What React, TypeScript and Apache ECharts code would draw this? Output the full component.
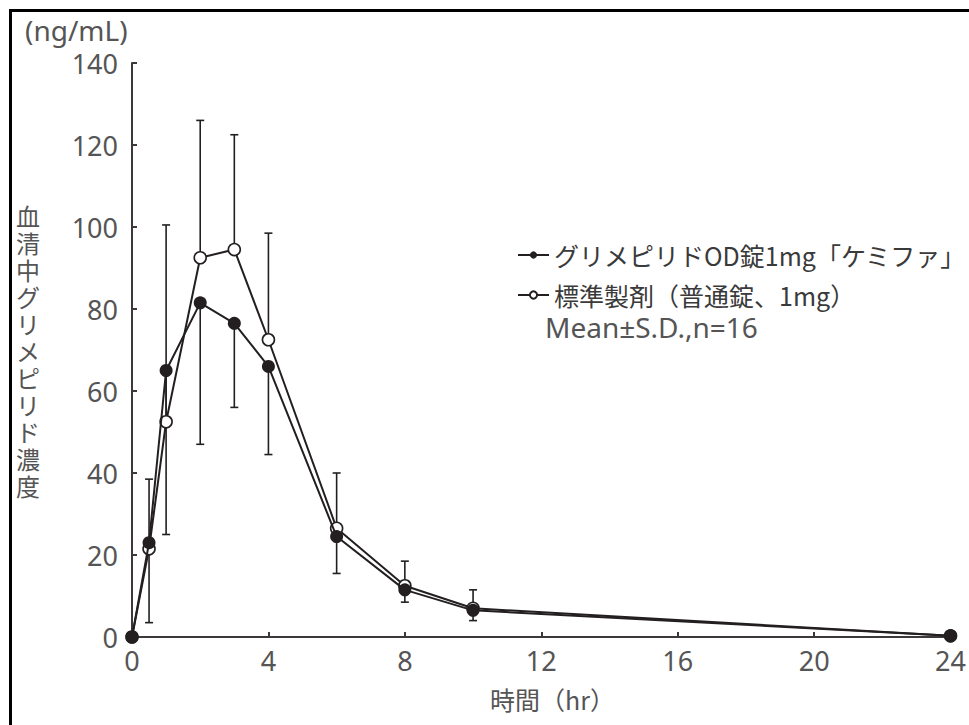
import React, { useEffect, useRef } from "react";
import * as echarts from "echarts";

const times = [0, 0.5, 1, 2, 3, 4, 6, 8, 10, 24];
const testMean = [0, 23, 65, 81.5, 76.5, 66, 24.5, 11.5, 6.5, 0.3];
const testLower = [0, 3.5, 25, 47, 56, 44.5, 15.5, 8.5, 4, 0.3];
const refMean = [0, 21.5, 52.5, 92.5, 94.5, 72.5, 26.5, 12.5, 7, 0.3];
const refUpper = [0, 38.5, 100.5, 126, 122.5, 98.5, 40, 18.5, 11.5, 0.3];
const xTicks = [0, 4, 8, 12, 16, 20, 24];
const yTicks = [0, 20, 40, 60, 80, 100, 120, 140];

const testName = "グリメピリドOD錠1mg「ケミファ」";
const refName = "標準製剤（普通錠、1mg）";
const yTitle = "血清中グリメピリド濃度";
const unitText = "(ng/mL)";
const xTitle = "時間（hr）";
const noteText = "Mean±S.D.,n=16";

const INK = "#231f20";
const LABEL = "#555555";
const FONT = "'Noto Sans CJK JP', 'Noto Sans', sans-serif";
const LATIN = "'Noto Sans', 'Noto Sans CJK JP', sans-serif";

export default function App() {
  const ref = useRef<HTMLDivElement>(null);
  useEffect(() => {
    if (!ref.current) return;
    const chart = echarts.init(ref.current, null, { renderer: "svg" });
    const errRender = (params: any, api: any) => {
      const x = api.value(0);
      const m = api.value(1);
      const e = api.value(2);
      const p1 = api.coord([x, m]);
      const p2 = api.coord([x, e]);
      const hw = 4;
      return {
        type: "group",
        children: [
          { type: "line", shape: { x1: p1[0], y1: p1[1], x2: p2[0], y2: p2[1] }, style: { stroke: INK, lineWidth: 1.6 } },
          { type: "line", shape: { x1: p2[0] - hw, y1: p2[1], x2: p2[0] + hw, y2: p2[1] }, style: { stroke: INK, lineWidth: 1.6 } },
        ],
      };
    };
    const errData = (means: number[], ends: number[]) =>
      times.map((t, i) => [t, means[i], ends[i]]).filter((d) => d[1] !== d[2]);
    chart.setOption({
      animation: false,
      backgroundColor: "#ffffff",
      textStyle: { fontFamily: FONT },
      grid: { left: 132, right: 17, top: 63, bottom: 88 },
      xAxis: {
        type: "value",
        min: 0,
        max: 24,
        interval: 4,
        axisLine: { lineStyle: { color: "#3d3939", width: 2 } },
        axisTick: { inside: true, length: 5, lineStyle: { color: "#3d3939", width: 2 } },
        axisLabel: { color: LABEL, fontSize: 27, margin: 10, fontFamily: LATIN,
          formatter: (v: number) => (xTicks.includes(v) ? String(v) : "") },
        splitLine: { show: false },
      },
      yAxis: {
        type: "value",
        min: 0,
        max: 140,
        interval: 20,
        axisLine: { show: true, lineStyle: { color: "#3d3939", width: 2 } },
        axisTick: { show: true, inside: true, length: 5, lineStyle: { color: "#3d3939", width: 2 } },
        axisLabel: { color: LABEL, fontSize: 27, margin: 14, fontFamily: LATIN,
          formatter: (v: number) => (yTicks.includes(v) ? String(v) : "") },
        splitLine: { show: false },
      },
      legend: {
        data: [testName, refName],
        orient: "vertical",
        left: 512,
        top: 236,
        itemWidth: 31,
        itemHeight: 9,
        itemGap: 12,
        textStyle: { fontSize: 25, color: "#3a3a3a", lineHeight: 28, fontFamily: FONT },
        selectedMode: false,
      },
      series: [
        {
          type: "custom",
          name: "refErr",
          renderItem: errRender,
          data: errData(refMean, refUpper),
          z: 1,
          silent: true,
        },
        {
          type: "custom",
          name: "testErr",
          renderItem: errRender,
          data: errData(testMean, testLower),
          z: 1,
          silent: true,
        },
        {
          type: "line",
          name: refName,
          data: times.map((t, i) => [t, refMean[i]]),
          symbol: "circle",
          symbolSize: 12,
          lineStyle: { color: INK, width: 2 },
          itemStyle: { color: "#ffffff", borderColor: INK, borderWidth: 1.6 },
          z: 2,
        },
        {
          type: "line",
          name: testName,
          data: times.map((t, i) => [t, testMean[i]]),
          symbol: "circle",
          symbolSize: 13,
          lineStyle: { color: INK, width: 2 },
          itemStyle: { color: INK, borderColor: INK, borderWidth: 0 },
          z: 3,
        },
      ],
      graphic: [
        { type: "rect", shape: { x: 9, y: 9, width: 960, height: 3 }, style: { fill: "#000" } },
        { type: "rect", shape: { x: 9, y: 9, width: 3, height: 716 }, style: { fill: "#000" } },
        { type: "text", left: 25, top: 16, style: { text: unitText, fontSize: 28, fill: LABEL, fontFamily: LATIN } },
        { type: "text", left: 16, top: 202, style: { text: yTitle.split("").join("\n"), fontSize: 24, lineHeight: 27, fill: LABEL, fontFamily: FONT, align: "center" } },
        { type: "text", left: 490, top: 686, style: { text: xTitle, fontSize: 25, fill: LABEL, fontFamily: FONT } },
        { type: "text", left: 545, top: 313, style: { text: noteText, fontSize: 28, fill: LABEL, fontFamily: LATIN } },
      ],
    });
    return () => chart.dispose();
  }, []);
  return <div ref={ref} style={{ position: "fixed", left: 0, top: 0, width: 969, height: 725 }} />;
}
